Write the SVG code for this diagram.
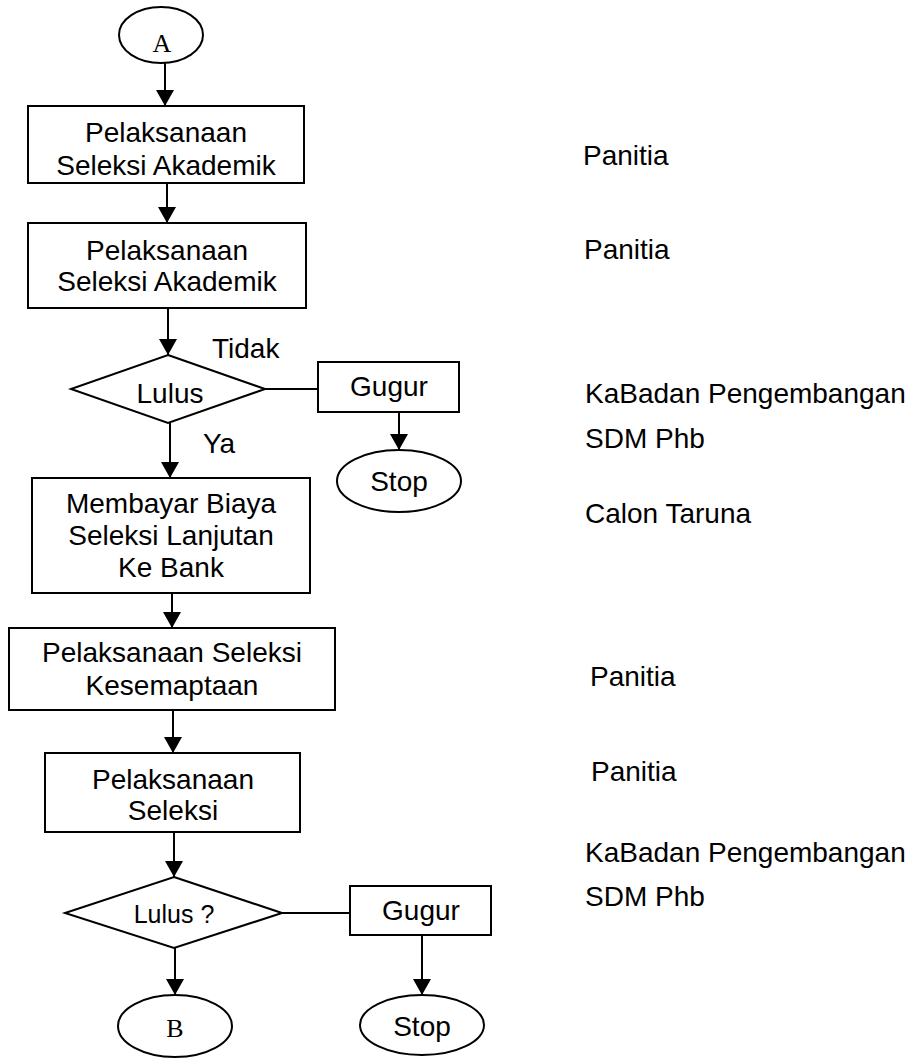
<svg xmlns="http://www.w3.org/2000/svg" width="923" height="1061" viewBox="0 0 923 1061">
<style>
.s{fill:#fff;stroke:#000;stroke-width:2}
.t{font-family:"Liberation Sans",Arial,sans-serif;font-size:28px;fill:#000}
.c{text-anchor:middle}
.r{font-family:"Liberation Serif","Times New Roman",serif;font-size:26px;fill:#000;text-anchor:middle}
.l{stroke:#000;stroke-width:2;fill:none}
</style>
<defs>
<marker id="ah" viewBox="0 0 16 18" refX="16" refY="9" markerWidth="16" markerHeight="18" markerUnits="userSpaceOnUse" orient="auto">
<path d="M0,0 L16,9 L0,18 Z" fill="#000"/>
</marker>
</defs>
<rect width="923" height="1061" fill="#fff"/>
<g id="connectors">
<line class="l" x1="165" y1="63" x2="165" y2="106" marker-end="url(#ah)"/>
<line class="l" x1="167" y1="183" x2="167" y2="223" marker-end="url(#ah)"/>
<line class="l" x1="168" y1="308" x2="168" y2="355" marker-end="url(#ah)"/>
<line class="l" x1="265" y1="389" x2="318" y2="389"/>
<line class="l" x1="399" y1="412" x2="399" y2="450" marker-end="url(#ah)"/>
<line class="l" x1="170" y1="423" x2="170" y2="478" marker-end="url(#ah)"/>
<line class="l" x1="172" y1="593" x2="172" y2="628" marker-end="url(#ah)"/>
<line class="l" x1="173" y1="710" x2="173" y2="753" marker-end="url(#ah)"/>
<line class="l" x1="174" y1="832" x2="174" y2="877" marker-end="url(#ah)"/>
<line class="l" x1="282" y1="913" x2="350" y2="913"/>
<line class="l" x1="422" y1="935" x2="422" y2="995" marker-end="url(#ah)"/>
<line class="l" x1="175" y1="948" x2="175" y2="995" marker-end="url(#ah)"/>
</g>
<g id="A">
<ellipse class="s" cx="161" cy="35" rx="42" ry="28"/>
<text class="r" x="162" y="52">A</text>
</g>
<g id="box1">
<rect class="s" x="28" y="106" width="276" height="77"/>
<text class="t c" x="166" y="142">Pelaksanaan</text>
<text class="t c" x="166" y="175">Seleksi Akademik</text>
</g>
<g id="box2">
<rect class="s" x="28" y="223" width="278" height="85"/>
<text class="t c" x="167" y="260">Pelaksanaan</text>
<text class="t c" x="167" y="291">Seleksi Akademik</text>
</g>
<g id="lulus1">
<polygon class="s" points="168,355 265,389 168,423 71,389"/>
<text class="t c" x="170" y="403">Lulus</text>
</g>
<text class="t" x="212" y="358">Tidak</text>
<text class="t" x="203" y="453">Ya</text>
<g id="gugur1">
<rect class="s" x="318" y="362" width="141" height="50"/>
<text class="t c" x="389" y="396">Gugur</text>
</g>
<g id="stop1">
<ellipse class="s" cx="399" cy="481" rx="62" ry="31"/>
<text class="t c" x="399" y="491">Stop</text>
</g>
<g id="box3">
<rect class="s" x="32" y="478" width="278" height="115"/>
<text class="t c" x="171" y="513">Membayar Biaya</text>
<text class="t c" x="171" y="545">Seleksi Lanjutan</text>
<text class="t c" x="171" y="577">Ke Bank</text>
</g>
<g id="box4">
<rect class="s" x="9" y="628" width="326" height="82"/>
<text class="t c" x="172" y="662">Pelaksanaan Seleksi</text>
<text class="t c" x="172" y="695">Kesemaptaan</text>
</g>
<g id="box5">
<rect class="s" x="45" y="753" width="255" height="79"/>
<text class="t c" x="173" y="789">Pelaksanaan</text>
<text class="t c" x="173" y="820">Seleksi</text>
</g>
<g id="lulus2">
<polygon class="s" points="174,877 282,913 174,948 65,913"/>
<text class="t c" x="174" y="923" style="font-size:25px">Lulus ?</text>
</g>
<g id="gugur2">
<rect class="s" x="350" y="886" width="141" height="49"/>
<text class="t c" x="421" y="920">Gugur</text>
</g>
<g id="stop2">
<ellipse class="s" cx="422" cy="1025" rx="62" ry="30"/>
<text class="t c" x="422" y="1036">Stop</text>
</g>
<g id="B">
<ellipse class="s" cx="175" cy="1026" rx="57" ry="31"/>
<text class="r" x="175" y="1037">B</text>
</g>
<g id="roles">
<text class="t" x="583" y="165">Panitia</text>
<text class="t" x="584" y="259">Panitia</text>
<text class="t" x="585" y="403">KaBadan Pengembangan</text>
<text class="t" x="585" y="448">SDM Phb</text>
<text class="t" x="585" y="523">Calon Taruna</text>
<text class="t" x="590" y="686">Panitia</text>
<text class="t" x="591" y="781">Panitia</text>
<text class="t" x="585" y="862">KaBadan Pengembangan</text>
<text class="t" x="585" y="906">SDM Phb</text>
</g>
</svg>
